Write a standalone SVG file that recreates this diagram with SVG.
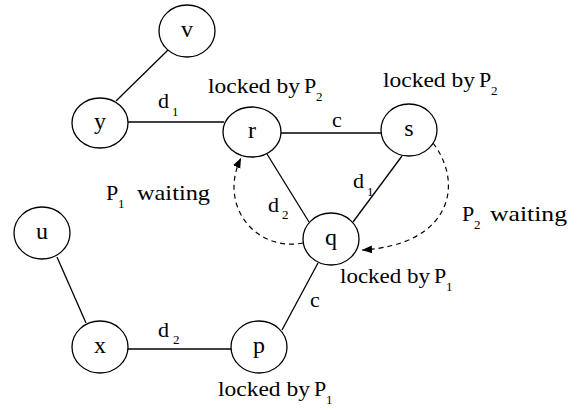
<svg xmlns="http://www.w3.org/2000/svg" width="580" height="410" viewBox="0 0 580 410">
<defs>
<style>
.n ellipse{fill:#fff;stroke:#000;stroke-width:1.3}
.n text{font-family:'Liberation Serif','Times New Roman',serif;font-size:24px;text-anchor:middle;fill:#000}
.e line{stroke:#000;stroke-width:1.3}
.w{fill:none;stroke:#000;stroke-width:1.2;stroke-dasharray:5 4}
.t{font-family:'Liberation Serif','Times New Roman',serif;font-size:22px;fill:#000}
.s{font-family:'Liberation Serif','Times New Roman',serif;font-size:13px;fill:#000}
</style>
<marker id="ah" markerUnits="userSpaceOnUse" markerWidth="11" markerHeight="9" refX="10" refY="4" orient="auto">
<path d="M0,0 L10,4 L0,8 z" fill="#000"/>
</marker>
</defs>
<rect width="580" height="410" fill="#fff"/>
<g id="connectors">
<g class="e">
<line x1="168" y1="50" x2="116" y2="101"/>
<line x1="128" y1="122" x2="224" y2="122"/>
<line x1="281" y1="133" x2="381" y2="133"/>
<line x1="267" y1="154" x2="309" y2="222"/>
<line x1="402" y1="156" x2="353" y2="222"/>
<line x1="282" y1="330" x2="318" y2="263"/>
<line x1="57" y1="257" x2="86" y2="323"/>
<line x1="128" y1="349" x2="231" y2="349"/>
</g>
<path class="w" d="M303,243 C255,252 218,205 241,158" marker-end="url(#ah)"/>
<path class="w" d="M433,143 C465,185 450,245 362,250" marker-end="url(#ah)"/>
<text class="t" x="158" y="108">d</text><text class="s" x="172" y="116">1</text>
<text class="t" x="332" y="127">c</text>
<text class="t" x="353" y="188">d</text><text class="s" x="367" y="196">1</text>
<text class="t" x="268" y="212">d</text><text class="s" x="282" y="219">2</text>
<text class="t" x="310" y="307">c</text>
<text class="t" x="158" y="337">d</text><text class="s" x="173" y="344">2</text>
<text class="t" x="106" y="200">P</text><text class="s" x="118" y="208">1</text><text class="t" x="137" y="200" textLength="73" lengthAdjust="spacingAndGlyphs">waiting</text>
<text class="t" x="462" y="221">P</text><text class="s" x="474" y="229">2</text><text class="t" x="490" y="221" textLength="77" lengthAdjust="spacingAndGlyphs">waiting</text>
</g>
<g id="v" class="n"><ellipse cx="187" cy="31" rx="28" ry="26"/><text x="187" y="37">v</text></g>
<g id="y" class="n"><ellipse cx="100" cy="123" rx="28" ry="25"/><text x="100" y="129">y</text></g>
<g id="r" class="n"><ellipse cx="252" cy="132" rx="29" ry="25"/><text x="252" y="138">r</text></g>
<g id="s" class="n"><ellipse cx="409" cy="130" rx="28" ry="26"/><text x="409" y="136">s</text></g>
<g id="q" class="n"><ellipse cx="331" cy="239" rx="28" ry="26"/><text x="331" y="245">q</text></g>
<g id="u" class="n"><ellipse cx="42" cy="233" rx="28" ry="26"/><text x="42" y="239">u</text></g>
<g id="x" class="n"><ellipse cx="100" cy="347" rx="28" ry="26"/><text x="100" y="353">x</text></g>
<g id="p" class="n"><ellipse cx="259" cy="347" rx="28" ry="26"/><text x="259" y="353">p</text></g>
<g id="labels">
<text class="t" x="208" y="93" textLength="92" lengthAdjust="spacingAndGlyphs">locked by</text><text class="t" x="304" y="93">P</text><text class="s" x="316" y="101">2</text>
<text class="t" x="383" y="87" textLength="92" lengthAdjust="spacingAndGlyphs">locked by</text><text class="t" x="479" y="87">P</text><text class="s" x="491" y="95">2</text>
<text class="t" x="340" y="283" textLength="90" lengthAdjust="spacingAndGlyphs">locked by</text><text class="t" x="434" y="283">P</text><text class="s" x="446" y="291">1</text>
<text class="t" x="218" y="396" textLength="92" lengthAdjust="spacingAndGlyphs">locked by</text><text class="t" x="314" y="396">P</text><text class="s" x="326" y="404">1</text>
</g>
</svg>
